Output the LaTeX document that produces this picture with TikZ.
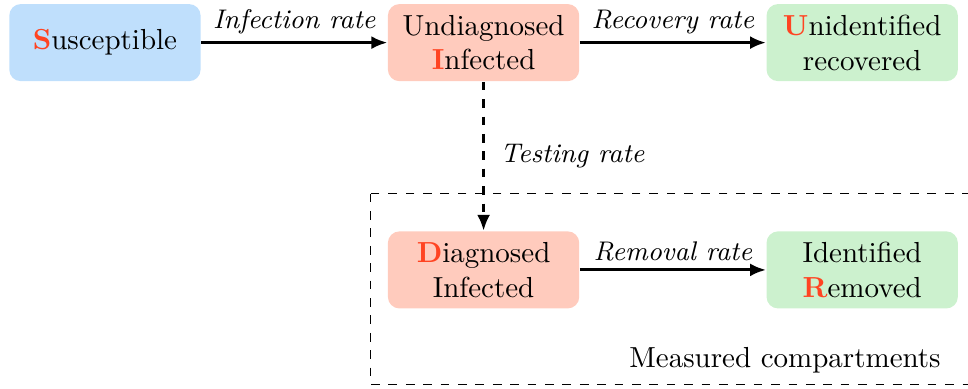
\documentclass[tikz,border=0pt]{standalone}
\usetikzlibrary{arrows.meta,positioning}

\definecolor{suscfill}{RGB}{191,223,252}
\definecolor{inffill}{RGB}{255,203,189}
\definecolor{recfill}{RGB}{204,241,206}
\definecolor{initred}{RGB}{255,68,34}
\newcommand{\firstl}[1]{\textcolor{initred}{\textbf{#1}}}

\begin{document}
\begin{tikzpicture}[
  comp/.style={rounded corners=4pt, align=center, inner sep=2pt,
               minimum width=66pt, minimum height=26.6pt},
  rate/.style={font=\fontsize{9.3}{11}\selectfont\itshape},
  arr/.style={-{Latex[length=5.5pt,width=4.5pt]}, line width=1pt},
]
\useasboundingbox (-36.2pt,14.7pt) rectangle (297.7pt,-119.2pt);

% The compartments.
\node[comp, fill=suscfill] (S) at (0,0) {\firstl{S}usceptible};
\node[comp, fill=inffill, right=64.2pt of S] (I) {Undiagnosed\\\firstl{I}nfected};
\node[comp, fill=recfill, right=64.2pt of I] (U) {\firstl{U}nidentified\\recovered};
\node[comp, fill=inffill, below=51.4pt of I] (D) {\firstl{D}iagnosed\\Infected};
\node[comp, fill=recfill, right=64.2pt of D] (R) {Identified\\\firstl{R}emoved};

\draw[arr] (S) -- node[rate, above=-0.8pt]{Infection rate} (I);
\draw[arr] (I) -- node[rate, above=-0.8pt]{Recovery rate} (U);
\draw[arr, dashed] (I) -- node[rate, right=2pt]{Testing rate} (D);
\draw[arr] (D) -- node[rate, above=-0.8pt]{Removal rate} (R);

% What is measured.
\draw[dashed] ([xshift=-5.9pt, yshift=12.8pt]D.north west) rectangle ([xshift=6pt, yshift=-25.9pt]R.south east);
\node[anchor=base east] (M) at ([xshift=-2.6pt, yshift=-20pt]R.south east) {Measured compartments};

\end{tikzpicture}
\end{document}
